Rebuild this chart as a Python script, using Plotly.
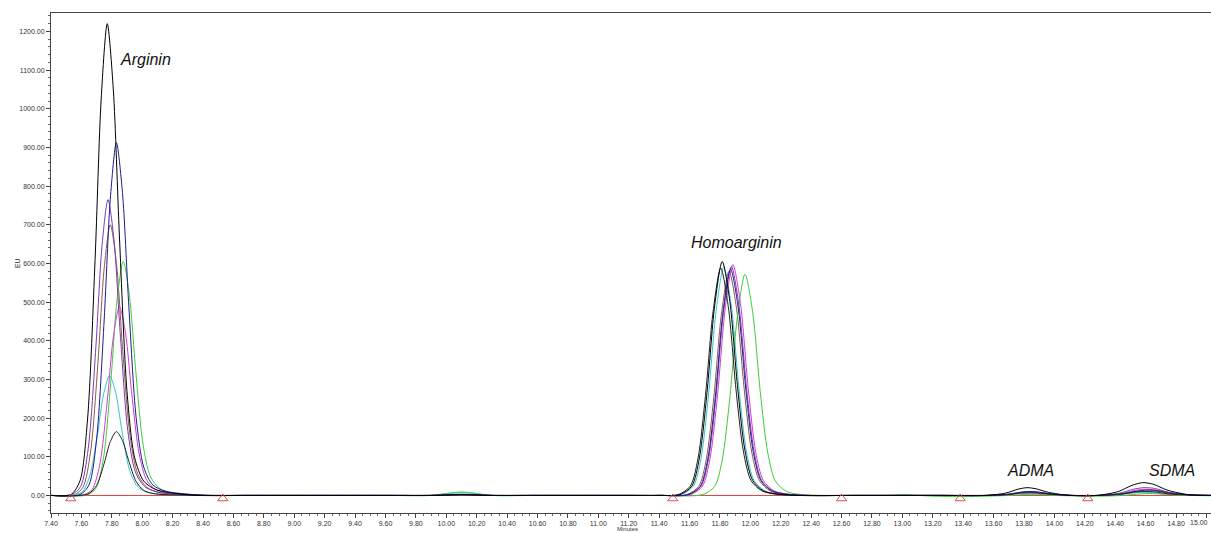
import plotly.graph_objects as go

# ---- data (minutes, EU) ----
BLACK1_T = [7.40, 7.53, 7.59, 7.64, 7.69, 7.73, 7.77, 7.81, 7.85, 7.90, 7.95, 8.01, 8.09, 8.22, 8.37,
            9.90, 10.02, 10.10, 10.18, 10.30,
            11.535, 11.615, 11.665, 11.715, 11.765, 11.815, 11.865, 11.915, 11.965, 12.015, 12.085, 12.165, 12.315,
            13.55, 13.68, 13.76, 13.82, 13.88, 13.96, 14.10,
            14.28, 14.42, 14.51, 14.58, 14.65, 14.74, 14.88, 15.03]
BLACK1_V = [0, 2, 37, 195, 610, 1025, 1220, 1049, 671, 268, 98, 37, 15, 5, 0,
            0, 1, 2, 1, 0,
            2, 24, 97, 266, 490, 605, 502, 284, 115, 39, 12, 4, 0,
            0, 6, 16, 20, 17, 8, 0,
            0, 10, 26, 33, 29, 14, 2, 0]

NAVY_T = [7.40, 7.59, 7.65, 7.70, 7.75, 7.79, 7.83, 7.87, 7.91, 7.96, 8.01, 8.07, 8.15, 8.28, 8.43,
          9.90, 10.02, 10.10, 10.18, 10.30,
          11.59, 11.67, 11.72, 11.77, 11.82, 11.87, 11.92, 11.97, 12.02, 12.07, 12.14, 12.22, 12.37,
          13.57, 13.70, 13.78, 13.84, 13.90, 13.98, 14.12,
          14.30, 14.45, 14.54, 14.61, 14.68, 14.77, 14.90, 15.03]
NAVY_V = [0, 2, 27, 146, 456, 766, 912, 784, 502, 201, 73, 27, 11, 4, 0,
          0, 2, 3, 2, 0,
          2, 23, 94, 257, 474, 585, 486, 275, 111, 38, 12, 4, 0,
          0, 3, 8, 10, 8, 4, 0,
          0, 4, 11, 14, 12, 6, 1, 0]

PURPLE_T = [7.40, 7.535, 7.595, 7.645, 7.695, 7.735, 7.775, 7.815, 7.855, 7.905, 7.955, 8.015, 8.095, 8.225, 8.375,
            9.90, 10.02, 10.10, 10.18, 10.30,
            11.595, 11.675, 11.725, 11.775, 11.825, 11.875, 11.925, 11.975, 12.025, 12.075, 12.145, 12.225, 12.375,
            13.56, 13.69, 13.77, 13.83, 13.89, 13.97, 14.11,
            14.29, 14.43, 14.52, 14.59, 14.66, 14.75, 14.89, 15.03]
PURPLE_V = [0, 2, 23, 122, 383, 643, 765, 658, 421, 168, 61, 23, 9, 3, 0,
            0, 1, 2, 1, 0,
            2, 24, 95, 260, 480, 592, 491, 278, 112, 38, 12, 4, 0,
            0, 3, 8, 10, 9, 4, 0,
            0, 6, 16, 20, 18, 8, 1, 0]

GREEN_T = [7.40, 7.635, 7.695, 7.745, 7.795, 7.835, 7.875, 7.915, 7.955, 8.005, 8.055, 8.115, 8.195, 8.325, 8.475,
           9.90, 10.02, 10.10, 10.18, 10.30,
           11.685, 11.765, 11.815, 11.865, 11.915, 11.965, 12.015, 12.065, 12.115, 12.165, 12.235, 12.315, 12.465,
           12.90, 13.00, 13.20, 13.40, 13.55, 13.70, 13.80, 13.86, 13.92, 14.00, 14.12,
           14.30, 14.45, 14.54, 14.61, 14.68, 14.77, 14.90, 15.03]
GREEN_V = [0, 1, 18, 97, 303, 508, 605, 520, 333, 133, 48, 18, 7, 2, 0,
           0, 6, 9, 6, 0,
           2, 23, 92, 252, 463, 572, 475, 269, 109, 37, 11, 3, 0,
           0, 2, -2, -3, -2, 0, 2, 3, 2, 0, -1,
           -2, 0, 3, 5, 4, 2, 0, -1]

MAGENTA_T = [7.40, 7.61, 7.67, 7.72, 7.77, 7.81, 7.85, 7.89, 7.93, 7.98, 8.03, 8.09, 8.17, 8.30, 8.45,
             9.90, 10.02, 10.10, 10.18, 10.30,
             11.605, 11.685, 11.735, 11.785, 11.835, 11.885, 11.935, 11.985, 12.035, 12.085, 12.155, 12.235, 12.385,
             13.56, 13.69, 13.77, 13.83, 13.89, 13.97, 14.11,
             14.30, 14.44, 14.53, 14.60, 14.67, 14.76, 14.90, 15.03]
MAGENTA_V = [0, 1, 15, 78, 244, 410, 488, 420, 268, 107, 39, 15, 6, 2, 0,
             0, 1, 2, 1, 0,
             2, 24, 96, 263, 484, 597, 496, 281, 113, 39, 12, 4, 0,
             0, 2, 6, 8, 7, 3, 0,
             0, 5, 13, 16, 14, 7, 1, 0]

CYAN_T = [7.40, 7.545, 7.605, 7.655, 7.705, 7.745, 7.785, 7.825, 7.865, 7.915, 7.965, 8.025, 8.105, 8.235, 8.385,
          9.90, 10.02, 10.10, 10.18, 10.30,
          11.545, 11.625, 11.675, 11.725, 11.775, 11.825, 11.875, 11.925, 11.975, 12.025, 12.095, 12.175, 12.325,
          13.55, 13.68, 13.76, 13.82, 13.88, 13.96, 14.10,
          14.28, 14.42, 14.51, 14.58, 14.65, 14.74, 14.88, 15.03]
CYAN_V = [0, 1, 9, 50, 155, 260, 310, 267, 171, 68, 25, 9, 4, 1, 0,
          0, 5, 7, 5, 0,
          2, 24, 94, 260, 478, 590, 490, 277, 112, 38, 12, 4, 0,
          0, 2, 4, 5, 4, 2, 0,
          0, 2, 6, 8, 7, 3, 1, 0]

BLACK2_T = [7.40, 7.59, 7.65, 7.70, 7.75, 7.79, 7.83, 7.87, 7.91, 7.96, 8.01, 8.07, 8.15, 8.28, 8.43,
            9.90, 10.02, 10.10, 10.18, 10.30,
            11.525, 11.605, 11.655, 11.705, 11.755, 11.805, 11.855, 11.905, 11.955, 12.005, 12.075, 12.155, 12.305,
            13.56, 13.69, 13.77, 13.83, 13.89, 13.97, 14.11,
            14.29, 14.43, 14.52, 14.59, 14.66, 14.75, 14.89, 15.03]
BLACK2_V = [0, 0, 5, 26, 83, 139, 165, 142, 91, 36, 13, 5, 2, 1, 0,
            0, 1, 2, 1, 0,
            2, 24, 94, 259, 476, 588, 488, 276, 112, 38, 12, 4, 0,
            0, 2, 6, 7, 6, 3, 0,
            0, 3, 8, 10, 9, 4, 1, 0]

BROWN_T = [7.40, 7.55, 7.61, 7.66, 7.71, 7.75, 7.79, 7.83, 7.87, 7.92, 7.97, 8.03, 8.11, 8.24, 8.39,
           9.90, 10.02, 10.10, 10.18, 10.30,
           11.58, 11.66, 11.71, 11.76, 11.81, 11.86, 11.91, 11.96, 12.01, 12.06, 12.13, 12.21, 12.36,
           13.57, 13.70, 13.78, 13.84, 13.90, 13.98, 14.12,
           14.30, 14.44, 14.53, 14.60, 14.67, 14.76, 14.90, 15.03]
BROWN_V = [0, 1, 21, 112, 350, 588, 700, 602, 385, 154, 56, 21, 8, 3, 0,
           0, 1, 2, 1, 0,
           2, 23, 93, 255, 470, 580, 481, 273, 110, 38, 12, 3, 0,
           0, 2, 6, 8, 7, 3, 0,
           0, 4, 10, 12, 11, 5, 1, 0]

# flat baseline stretches (signal 0 EU) seen between the peaks
FLAT_T = [8.70, 9.00, 9.30, 9.60, 10.60, 10.90, 11.20, 11.40, 12.70, 13.00, 13.25]

# integration markers (triangles) and baselines
TRI_X = [7.53, 8.53, 11.49, 12.60, 13.38, 14.22]
TRI_Y = [-8, -8, -8, -8, -8, -8]
BASE_X = [7.53, 8.53, None, 11.49, 12.60, None, 13.38, 14.22, 15.03]
BASE_Y = [0, 0, None, 0, 0, None, 0, 0, 0]

LABELS = ["Arginin", "Homoarginin", "ADMA", "SDMA"]
LABEL_X = [8.02, 11.91, 13.84, 14.775]
LABEL_Y = [1127, 654, 65, 65]


def with_flat(t, v):
    """Add the flat-baseline readings where the trace has no reading nearby."""
    pts = list(zip(t, v))
    for ft in FLAT_T:
        if all(abs(ft - x) > 0.12 for x in t):
            pts.append((ft, 0))
    pts.sort()
    return [p[0] for p in pts], [p[1] for p in pts]


traces = [
    (BROWN_T, BROWN_V, "#8c5a4c"),
    (CYAN_T, CYAN_V, "#2fc8d0"),
    (GREEN_T, GREEN_V, "#3ccc3c"),
    (MAGENTA_T, MAGENTA_V, "#d23cd2"),
    (PURPLE_T, PURPLE_V, "#7a3cb0"),
    (NAVY_T, NAVY_V, "#1c1c90"),
    (BLACK2_T, BLACK2_V, "#202020"),
    (BLACK1_T, BLACK1_V, "#000000"),
]

fig = go.Figure()

fig.add_trace(go.Scatter(x=BASE_X, y=BASE_Y, mode="lines",
                         line=dict(color="#e05050", width=1), showlegend=False, hoverinfo="skip"))

for t, v, c in traces:
    tt, vv = with_flat(t, v)
    fig.add_trace(go.Scatter(x=tt, y=vv, mode="lines",
                             line=dict(color=c, width=1, shape="spline", smoothing=0.8),
                             showlegend=False))

fig.add_trace(go.Scatter(x=TRI_X, y=TRI_Y, mode="markers",
                         marker=dict(symbol="triangle-up-open", size=9, color="#d9534f",
                                     line=dict(width=1, color="#d9534f")),
                         showlegend=False))

for lab, lx, ly in zip(LABELS, LABEL_X, LABEL_Y):
    fig.add_annotation(x=lx, y=ly, text="<i>%s</i>" % lab, showarrow=False,
                       font=dict(family="Liberation Sans, Arial", size=16, color="#111111"))

tickfont = dict(family="Liberation Sans, Arial", size=7, color="#333333")
# last tick label at the right edge
fig.add_annotation(x=1.0, xref="paper", xanchor="right", xshift=-1, yref="paper", y=-0.008,
                   yanchor="top", text="15.00", showarrow=False, font=tickfont)
fig.add_annotation(xref="paper", yref="paper", x=0.497, y=-0.021, yanchor="top", text="Minutes",
                   showarrow=False, font=dict(family="Liberation Sans, Arial", size=6, color="#333333"))
fig.add_annotation(xref="paper", yref="paper", x=-0.034, y=0.50, text="EU", showarrow=False,
                   textangle=-90, font=dict(family="Liberation Sans, Arial", size=7, color="#333333"))

fig.update_layout(
    width=1211, height=533,
    margin=dict(l=51, r=0, t=13, b=20),
    paper_bgcolor="white", plot_bgcolor="white",
    xaxis=dict(range=[7.40, 15.03], dtick=0.2, tick0=7.4, tickformat=".2f",
               showgrid=False, zeroline=False, showline=True, linecolor="#444444", linewidth=1,
               mirror=True, ticks="outside", ticklen=4, tickcolor="#444444",
               minor=dict(dtick=0.05, ticks="outside", ticklen=2, tickcolor="#666666"),
               tickfont=tickfont),
    yaxis=dict(range=[-45.5, 1247.6], dtick=100, tick0=0, tickformat=".2f",
               showgrid=False, zeroline=True, zerolinecolor="#555555", zerolinewidth=1,
               showline=True, linecolor="#444444", linewidth=1,
               ticks="outside", ticklen=4, tickcolor="#444444",
               minor=dict(dtick=20, ticks="outside", ticklen=2, tickcolor="#666666"),
               tickfont=tickfont),
)

fig.write_html("out.html")
